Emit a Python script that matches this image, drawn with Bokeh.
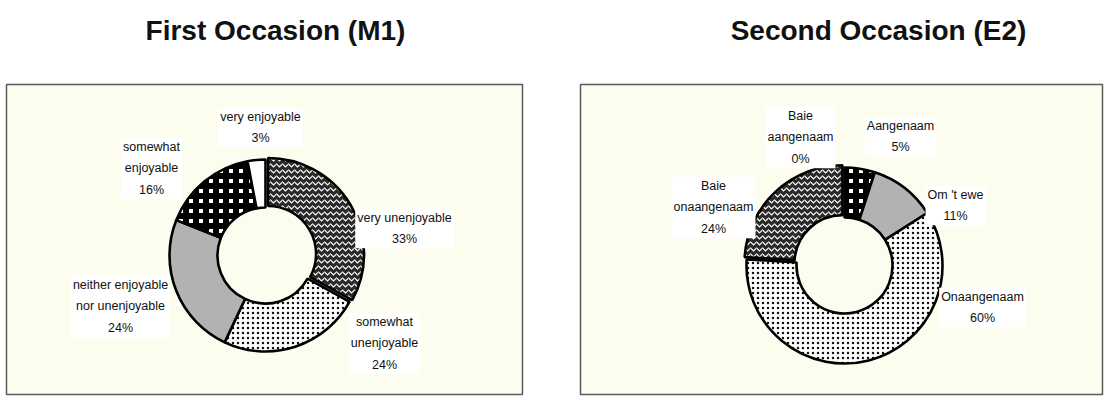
import math
from bokeh.plotting import figure
from bokeh.models import Range1d
from bokeh.core.properties import value
from bokeh.embed import file_html
from bokeh.resources import INLINE

# ---------------- data ----------------
m1_title = "First Occasion (M1)"
m1_categories = ["very unenjoyable", "somewhat unenjoyable",
                 "neither enjoyable nor unenjoyable", "somewhat enjoyable",
                 "very enjoyable"]
m1_labels = ["very unenjoyable", "somewhat\nunenjoyable",
             "neither enjoyable\nnor unenjoyable", "somewhat\nenjoyable",
             "very enjoyable"]
m1_values = [33, 24, 24, 16, 3]

e2_title = "Second Occasion (E2)"
e2_categories = ["Baie aangenaam", "Aangenaam", "Om 't ewe", "Onaangenaam",
                 "Baie onaangenaam"]
e2_labels = ["Baie\naangenaam", "Aangenaam", "Om 't ewe", "Onaangenaam",
             "Baie\nonaangenaam"]
e2_values = [0, 5, 11, 60, 24]

# ---------------- styles / layout ----------------
W, H = 1105, 397
FONT = "Liberation Sans"

STYLES = {
    "weave": dict(fill_color="#2a2a2a", hatch_pattern="horizontal_wave",
                  hatch_color="white", hatch_scale=6, hatch_weight=1.2),
    "dots": dict(fill_color="white", hatch_pattern="dot",
                 hatch_color="#111111", hatch_scale=5, hatch_weight=1.2),
    "gray": dict(fill_color="#b2b2b2"),
    "grid": dict(fill_color="white", hatch_pattern="cross",
                 hatch_color="black", hatch_scale=10, hatch_weight=6),
    "white": dict(fill_color="white"),
}

m1_styles = ["weave", "dots", "gray", "grid", "white"]
e2_styles = ["white", "grid", "gray", "dots", "weave"]
m1_explode = [3, 0, 0, 0, 0]
e2_explode = [0, 0, 0, 0, 3]

# panels: box edges, donut centre, title x, label anchors (pixels from top-left)
panels = [
    dict(title=m1_title, labels=m1_labels, values=m1_values, styles=m1_styles,
         explode=m1_explode, box=(6, 522), c=(265, 255), r=96, tx=275,
         lab=[(404, 228), (384, 343), (120, 306), (151, 168), (260, 127)]),
    dict(title=e2_title, labels=e2_labels, values=e2_values, styles=e2_styles,
         explode=e2_explode, box=(580, 1102), c=(844, 265), r=98, tx=878,
         lab=[(800, 137), (900, 136), (955, 205), (982, 307), (713, 207)]),
]
R_IN = 48
BOX_TOP, BOX_BOTTOM = 84, 394


def Y(v):
    return H - v


p = figure(width=W, height=H, x_range=Range1d(0, W), y_range=Range1d(0, H),
           output_backend="svg", toolbar_location=None, min_border=0)
p.axis.visible = False
p.grid.visible = False
p.outline_line_color = None
p.background_fill_color = "white"
p.border_fill_color = "white"

for pn in panels:
    x0, x1 = pn["box"]
    p.quad(left=[x0], right=[x1], top=[Y(BOX_TOP)], bottom=[Y(BOX_BOTTOM)],
           fill_color="#fdfdef", line_color="#5a5a5a", line_width=1.5)

    total = float(sum(pn["values"]))
    cx, cy = pn["c"]
    cum = 0.0
    for val, sty, ex in zip(pn["values"], pn["styles"], pn["explode"]):
        frac0 = cum / total
        cum += val
        frac1 = cum / total
        if val <= 0:
            continue
        a0 = math.pi / 2 - 2 * math.pi * frac0
        a1 = math.pi / 2 - 2 * math.pi * frac1
        mid = (a0 + a1) / 2
        x = cx + ex * math.cos(mid)
        y = Y(cy) + ex * math.sin(mid)
        p.annular_wedge(x=[x], y=[y], inner_radius=R_IN, outer_radius=pn["r"],
                        start_angle=a0, end_angle=a1, direction="clock",
                        line_color="black", line_width=2.6, **STYLES[sty])

    texts = [f"{lab}\n{v}%" for lab, v in zip(pn["labels"], pn["values"])]
    p.text(x=[q[0] for q in pn["lab"]], y=[Y(q[1]) for q in pn["lab"]],
           text=texts, text_align="center", text_baseline="middle",
           text_font=value(FONT), text_font_size="12.5px", text_color="#111111",
           text_line_height=1.55, background_fill_color="white", padding=2)

    p.text(x=[pn["tx"]], y=[Y(30)], text=[pn["title"]], text_align="center",
           text_baseline="middle", text_font=value(FONT),
           text_font_size="28px", text_font_style="bold", text_color="#111111")

open("out.html", "w").write(file_html(p, INLINE))
